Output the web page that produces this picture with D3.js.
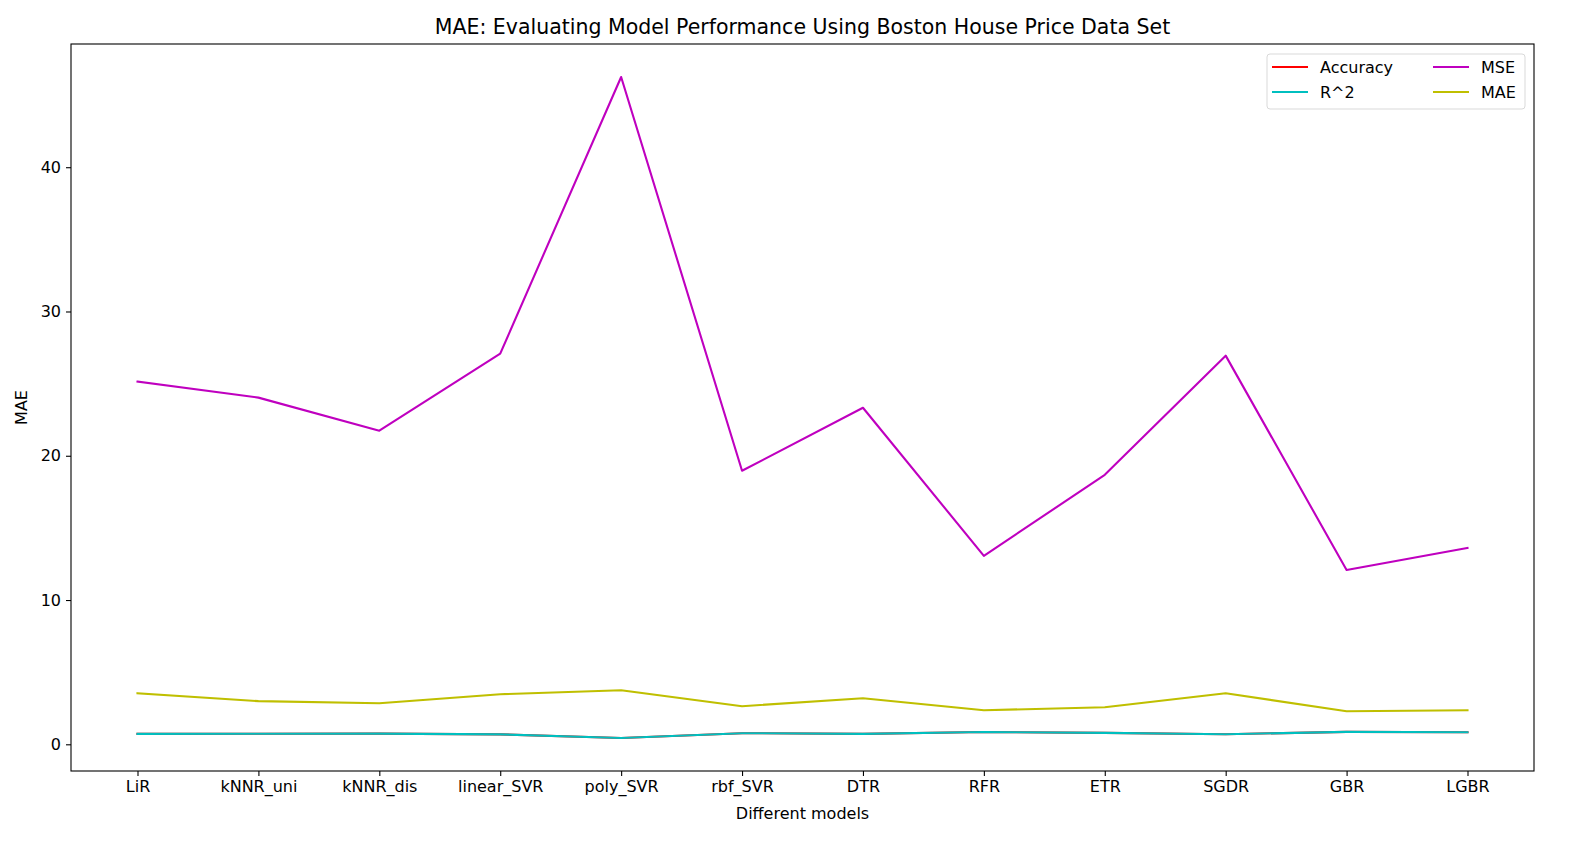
<!DOCTYPE html>
<html>
<head>
<meta charset="utf-8">
<script src="https://cdn.jsdelivr.net/npm/d3@7.9.0/dist/d3.min.js"></script>
<style>
  body { margin: 0; background: #fff; }
  svg { display: block; font-family: 'DejaVu Sans', sans-serif; }
</style>
</head>
<body>
<div id="chart"></div>
<script>
const models = ['LiR', 'kNNR_uni', 'kNNR_dis', 'linear_SVR', 'poly_SVR', 'rbf_SVR',
  'DTR', 'RFR', 'ETR', 'SGDR', 'GBR', 'LGBR'];

const accuracy = [0.72, 0.73, 0.74, 0.69, 0.44, 0.77, 0.72, 0.85, 0.79, 0.70, 0.86, 0.84];
const r2 = [0.72, 0.73, 0.74, 0.69, 0.44, 0.77, 0.72, 0.85, 0.79, 0.70, 0.86, 0.84];
const mse = [25.14, 24.03, 21.74, 27.08, 46.25, 18.96, 23.33, 13.06, 18.68, 26.94, 12.08, 13.61];
const mae = [3.54, 2.99, 2.85, 3.47, 3.75, 2.64, 3.19, 2.36, 2.57, 3.54, 2.29, 2.36];

const yTicks = [0, 10, 20, 30, 40];

const series = [
  { name: 'Accuracy', values: accuracy, color: '#ff0000' },
  { name: 'R^2', values: r2, color: '#00bfbf' },
  { name: 'MSE', values: mse, color: '#bf00bf' },
  { name: 'MAE', values: mae, color: '#bfbf00' },
];

const width = 1595;
const height = 844;
const area = { left: 71, right: 1534, top: 44, bottom: 771 };

const svg = d3.select('#chart')
  .append('svg')
  .attr('width', width)
  .attr('height', height);

// matplotlib-style 5% margins
const n = models.length;
const xScale = d3.scaleLinear()
  .domain([-0.55, n - 1 + 0.55])
  .range([area.left, area.right]);

const allValues = series.flatMap((s) => s.values);
const [minV, maxV] = d3.extent(allValues);
const pad = (maxV - minV) * 0.05;
const yScale = d3.scaleLinear()
  .domain([minV - pad, maxV + pad])
  .range([area.bottom, area.top]);

const line = d3.line()
  .x((d, i) => xScale(i))
  .y((d) => yScale(d));

const lines = svg.append('g').attr('class', 'lines');
for (const s of series) {
  lines.append('path')
    .datum(s.values)
    .attr('fill', 'none')
    .attr('stroke', s.color)
    .attr('stroke-width', 2.1)
    .attr('stroke-linejoin', 'round')
    .attr('stroke-linecap', 'square')
    .attr('d', line);
}

const xAxis = d3.axisBottom(xScale)
  .tickValues(d3.range(n))
  .tickFormat((i) => models[i])
  .tickSize(5)
  .tickPadding(5);

const yAxis = d3.axisLeft(yScale)
  .tickValues(yTicks)
  .tickSize(5)
  .tickPadding(5);

const gx = svg.append('g')
  .attr('transform', `translate(0, ${area.bottom})`)
  .call(xAxis);

const gy = svg.append('g')
  .attr('transform', `translate(${area.left}, 0)`)
  .call(yAxis);

for (const g of [gx, gy]) {
  g.select('.domain').remove();
  g.selectAll('.tick line').attr('stroke', '#000').attr('stroke-width', 1.1);
  g.selectAll('.tick text')
    .attr('fill', '#000')
    .style('font-size', '16px')
    .style('font-family', 'DejaVu Sans, sans-serif');
}

// frame
svg.append('rect')
  .attr('x', area.left)
  .attr('y', area.top)
  .attr('width', area.right - area.left)
  .attr('height', area.bottom - area.top)
  .attr('fill', 'none')
  .attr('stroke', '#000')
  .attr('stroke-width', 1.1);

// title and labels
svg.append('text')
  .attr('x', (area.left + area.right) / 2)
  .attr('y', 34)
  .attr('text-anchor', 'middle')
  .style('font-size', '20.5px')
  .text('MAE: Evaluating Model Performance Using Boston House Price Data Set');

svg.append('text')
  .attr('x', (area.left + area.right) / 2)
  .attr('y', 819)
  .attr('text-anchor', 'middle')
  .style('font-size', '16px')
  .text('Different models');

svg.append('text')
  .attr('transform', `translate(27, ${(area.top + area.bottom) / 2}) rotate(-90)`)
  .attr('text-anchor', 'middle')
  .style('font-size', '16px')
  .text('MAE');

// legend, two columns
const legend = svg.append('g').attr('transform', 'translate(1267, 54)');
legend.append('rect')
  .attr('width', 258)
  .attr('height', 55)
  .attr('rx', 3)
  .attr('fill', '#fff')
  .attr('fill-opacity', 0.8)
  .attr('stroke', '#d9d9d9');

series.forEach((s, i) => {
  const col = Math.floor(i / 2);
  const row = i % 2;
  const g = legend.append('g')
    .attr('transform', `translate(${5 + col * 161}, ${13 + row * 25})`);
  g.append('line')
    .attr('x1', 0)
    .attr('x2', 36)
    .attr('stroke', s.color)
    .attr('stroke-width', 2.1);
  g.append('text')
    .attr('x', 48)
    .attr('dy', '0.35em')
    .style('font-size', '16px')
    .text(s.name);
});
</script>
</body>
</html>
